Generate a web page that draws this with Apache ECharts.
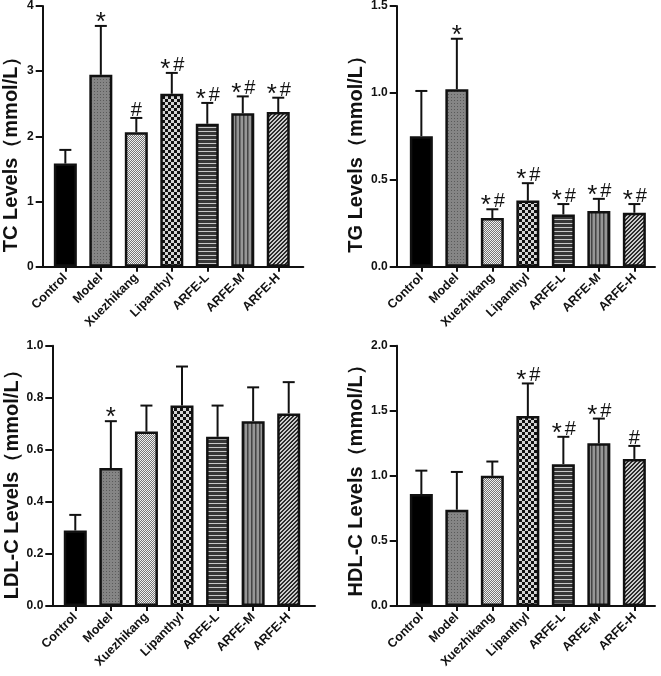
<!DOCTYPE html>
<html><head><meta charset="utf-8">
<script src="https://cdn.jsdelivr.net/npm/echarts@6/dist/echarts.min.js"></script>
<style>html,body{margin:0;padding:0;background:#fff}#c{width:661px;height:676px}</style>
</head><body><div id="c"></div>
<script>
const categories = ['Control','Model','Xuezhikang','Lipanthyl','ARFE-L','ARFE-M','ARFE-H'];

const tcMean = [1.58, 2.94, 2.06, 2.65, 2.19, 2.35, 2.37];
const tcSD   = [0.21, 0.75, 0.22, 0.32, 0.32, 0.26, 0.22];
const tcMark = ['', '*', '#', '* #', '* #', '* #', '* #'];
const tcTicks = ['0','1','2','3','4'];

const tgMean = [0.75, 1.02, 0.28, 0.38, 0.30, 0.32, 0.31];
const tgSD   = [0.26, 0.29, 0.05, 0.10, 0.06, 0.07, 0.05];
const tgMark = ['', '*', '* #', '* #', '* #', '* #', '* #'];
const tgTicks = ['0.0','0.5','1.0','1.5'];

const ldlMean = [0.29, 0.53, 0.67, 0.77, 0.65, 0.71, 0.74];
const ldlSD   = [0.06, 0.18, 0.10, 0.15, 0.12, 0.13, 0.12];
const ldlMark = ['', '*', '', '', '', '', ''];
const ldlTicks = ['0.0','0.2','0.4','0.6','0.8','1.0'];

const hdlMean = [0.86, 0.74, 1.00, 1.46, 1.09, 1.25, 1.13];
const hdlSD   = [0.18, 0.29, 0.11, 0.25, 0.21, 0.19, 0.10];
const hdlMark = ['', '', '', '* #', '* #', '* #', '#'];
const hdlTicks = ['0.0','0.5','1.0','1.5','2.0'];

function pat(w, h, fn) {
  const c = document.createElement('canvas');
  c.width = w; c.height = h;
  const g = c.getContext('2d');
  for (let y = 0; y < h; y++) for (let x = 0; x < w; x++) { g.fillStyle = fn(x, y); g.fillRect(x, y, 1, 1); }
  return { image: c, repeat: 'repeat' };
}
const fills = [
  '#000000',
  pat(3, 3, (x, y) => (x === 1 && y === 1) ? '#5a5a5a' : '#858585'),
  pat(2, 2, (x, y) => ((x + y) % 2 === 0) ? '#f0f0f0' : '#747474'),
  pat(6, 6, (x, y) => ((Math.floor(x / 3) + Math.floor(y / 3)) % 2 === 0) ? '#111111' : '#d4d4d4'),
  pat(4, 4, (x, y) => (y === 3) ? '#c8c8c8' : '#383838'),
  pat(4, 4, (x, y) => (x === 3) ? '#444444' : (x === 0 ? '#6a6a6a' : '#969696')),
  pat(4, 4, (x, y) => ((x + y) % 4 < 2) ? '#2a2a2a' : '#cacaca')
];

const panels = [
  { name: 'TC Levels（mmol/L）', mean: tcMean, sd: tcSD, mark: tcMark, ticks: tcTicks, max: 4, interval: 1,
    axisX: 42.7, barLeft: 47.6, barW: 248.4, lineEnd: 303.3, top: 5.7, h: 261, gap: 21, shift: 13 },
  { name: 'TG Levels（mmol/L）', mean: tgMean, sd: tgSD, mark: tgMark, ticks: tgTicks, max: 1.5, interval: 0.5,
    axisX: 396.7, barLeft: 403.6, barW: 248.5, lineEnd: 655, top: 5.7, h: 261, gap: 30, shift: 13 },
  { name: 'LDL-C Levels（mmol/L）', mean: ldlMean, sd: ldlSD, mark: ldlMark, ticks: ldlTicks, max: 1.0, interval: 0.2,
    axisX: 52.3, barLeft: 57.5, barW: 249, lineEnd: 315, top: 345.7, h: 260.3, gap: 30, shift: 4 },
  { name: 'HDL-C Levels（mmol/L）', mean: hdlMean, sd: hdlSD, mark: hdlMark, ticks: hdlTicks, max: 2.0, interval: 0.5,
    axisX: 396.7, barLeft: 403.6, barW: 248.5, lineEnd: 655, top: 345.7, h: 260.3, gap: 30, shift: 0 }
];

const FONT = '"Liberation Sans", Arial, sans-serif';
const grid = [], xAxis = [], yAxis = [], series = [];
panels.forEach((p) => {
  const gLine = grid.length;
  grid.push({ left: p.axisX, top: p.top, width: p.lineEnd - p.axisX, height: p.h });
  const gBar = grid.length;
  grid.push({ left: p.barLeft, top: p.top, width: p.barW, height: p.h });
  xAxis.push({ gridIndex: gLine, type: 'value', min: 0, max: 1,
    axisLine: { show: true, onZero: false, lineStyle: { color: '#111', width: 2 } },
    axisTick: { show: false }, axisLabel: { show: false }, splitLine: { show: false } });
  yAxis.push({ gridIndex: gLine, type: 'value', min: 0, max: p.max, interval: p.interval,
    name: p.name, nameLocation: 'middle', nameGap: p.gap, nameRotate: 90,
    nameTextStyle: { fontFamily: FONT, fontWeight: 'bold', fontSize: 20, color: '#111',
      padding: [0, p.shift * 2, 0, 0] },
    axisLine: { show: true, lineStyle: { color: '#111', width: 2 } },
    axisTick: { show: true, length: 7, lineStyle: { color: '#111', width: 2 } },
    axisLabel: { margin: 9, fontFamily: FONT, fontWeight: 'bold', fontSize: 12, color: '#111',
      formatter: (v, i) => p.ticks[i] },
    splitLine: { show: false } });
  const xb = xAxis.length;
  xAxis.push({ gridIndex: gBar, type: 'category', data: categories, boundaryGap: true,
    axisLine: { show: false },
    axisTick: { show: true, alignWithLabel: true, length: 5, lineStyle: { color: '#111', width: 2 } },
    axisLabel: { interval: 0, rotate: 45, margin: 9, fontFamily: FONT, fontWeight: 'bold', fontSize: 12.5, color: '#111' },
    splitLine: { show: false } });
  const yb = yAxis.length;
  yAxis.push({ gridIndex: gBar, type: 'value', min: 0, max: p.max, show: false, splitLine: { show: false } });
  series.push({ type: 'bar', xAxisIndex: xb, yAxisIndex: yb, barWidth: 23,
    data: p.mean.map((v, i) => ({ value: v, itemStyle: { color: fills[i] } })),
    itemStyle: { borderColor: '#111', borderWidth: 2.5 }, silent: true, animation: false });
  series.push({ type: 'custom', xAxisIndex: xb, yAxisIndex: yb, animation: false, silent: true, z: 5,
    data: p.mean.map((v, i) => [i, v, p.sd[i]]),
    renderItem: (params, api) => {
      const i = api.value(0), m = api.value(1), s = api.value(2);
      const a = api.coord([i, m]), b = api.coord([i, m + s]);
      const half = 6;
      const ls = { stroke: '#111', lineWidth: 2 };
      const children = [
        { type: 'line', shape: { x1: a[0], y1: a[1], x2: b[0], y2: b[1] }, style: ls },
        { type: 'line', shape: { x1: b[0] - half, y1: b[1], x2: b[0] + half, y2: b[1] }, style: ls }
      ];
      const t = p.mark[params.dataIndex];
      const star = t.indexOf('*') >= 0, hash = t.indexOf('#') >= 0;
      const both = star && hash;
      if (star) children.push({ type: 'text', style: { text: '*', x: b[0] + (both ? -6.5 : 0), y: b[1] - 3,
        textAlign: 'center', textVerticalAlign: 'middle', font: '26px ' + FONT, fill: '#111' } });
      if (hash) children.push({ type: 'text', style: { text: '#', x: b[0] + (both ? 7 : 0), y: b[1] - 7.5,
        textAlign: 'center', textVerticalAlign: 'middle', font: '20px ' + FONT, fill: '#111' } });
      return { type: 'group', children };
    } });
});

const chart = echarts.init(document.getElementById('c'), null, { renderer: 'canvas' });
chart.setOption({ animation: false, backgroundColor: '#fff', grid, xAxis, yAxis, series });
</script></body></html>
